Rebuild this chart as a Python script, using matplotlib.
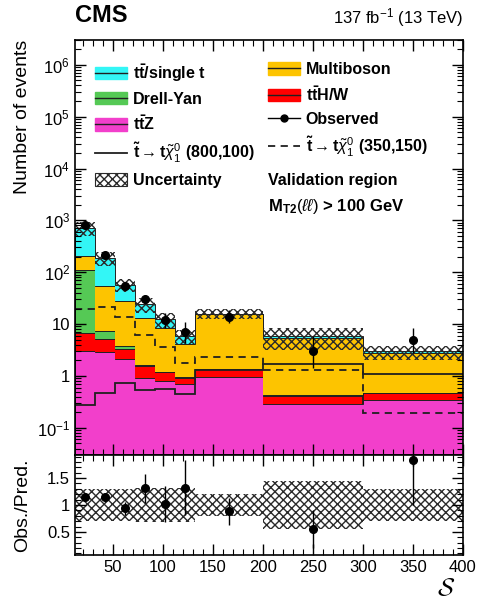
import numpy as np
import matplotlib
matplotlib.use("Agg")
import matplotlib.pyplot as plt
from matplotlib.patches import Patch
from matplotlib.lines import Line2D
from matplotlib.ticker import FixedLocator, MultipleLocator, LogLocator, FuncFormatter, NullFormatter

plt.rcParams['font.family'] = ['Liberation Sans', 'DejaVu Sans']
plt.rcParams['mathtext.fontset'] = 'custom'
plt.rcParams['mathtext.rm'] = 'Liberation Sans'
plt.rcParams['mathtext.it'] = 'Liberation Sans:italic'
plt.rcParams['mathtext.bf'] = 'Liberation Sans:bold'
plt.rcParams['hatch.linewidth'] = 1.0

# bin edges in S
edges = [12, 32, 52, 72, 92, 112, 132, 200, 300, 400]
centers = [22, 42, 62, 82, 102, 122, 166, 250, 350]

# stacked backgrounds (bottom to top)
ttz = [3.0, 2.9, 2.1, 0.93, 0.8, 0.7, 0.96, 0.29, 0.34]
tth_w = [3.8, 2.2, 1.2, 0.63, 0.4, 0.23, 0.39, 0.12, 0.12]
drell_yan = [105, 2.2, 0.5, 0.04, 0.02, 0.02, 0.02, 0.01, 0.01]
multiboson = [91, 46.7, 23.8, 11.6, 7.3, 3.15, 14.0, 4.9, 2.3]
ttbar = [507, 134, 30.4, 10.8, 3.8, 1.8, 0.6, 0.5, 0.2]

# relative uncertainty on the prediction
unc = [0.29, 0.29, 0.29, 0.31, 0.31, 0.31, 0.2, 0.45, 0.3]

# signals
sig_800_100 = [0.28, 0.48, 0.72, 0.53, 0.55, 0.44, 1.3, 1.68, 1.1]
sig_350_150 = [19.6, 21, 13.6, 6.1, 3.7, 1.75, 2.3, 1.29, 0.19]

# observed
obs = [800, 212, 54, 30, 12, 7, 14, 3, 5]
obs_lo = [28, 14.5, 7.3, 5.4, 3.4, 2.6, 3.7, 1.6, 2.2]
obs_hi = [29, 15.5, 7.9, 6.5, 4.5, 3.8, 4.8, 2.9, 3.4]

# ratio panel
ratio = [1.14, 1.14, 0.94, 1.31, 1.02, 1.32, 0.88, 0.55, 1.83]
ratio_lo = [0.04, 0.08, 0.12, 0.27, 0.33, 0.51, 0.25, 0.35, 0.83]
ratio_hi = [0.04, 0.08, 0.12, 0.27, 0.33, 0.51, 0.25, 0.36, 0.85]

colors = {
    'ttz': '#f23fcb',
    'tth': '#ff0000',
    'dy': '#55c955',
    'vv': '#fdc400',
    'tt': '#33f6f6',
}

fig = plt.figure(figsize=(4.85, 5.99), dpi=100)
ax = fig.add_axes([75 / 485, 1 - 455 / 599, 388 / 485, 415 / 599])
rax = fig.add_axes([75 / 485, 1 - 555 / 599, 388 / 485, 100 / 599], sharex=ax)

layers = [(ttz, colors['ttz']), (tth_w, colors['tth']), (drell_yan, colors['dy']),
          (multiboson, colors['vv']), (ttbar, colors['tt'])]
bottom = np.full(len(centers), 1e-3)
for vals, c in layers:
    top = bottom + np.array(vals)
    ax.stairs(top, edges, baseline=bottom, fill=True, color=c, lw=0)
    ax.stairs(top, edges, color='#202020', lw=0.7)
    bottom = top
total = bottom

unc = np.array(unc)
ax.stairs(total * (1 + unc), edges, baseline=total * (1 - unc), fill=True,
          facecolor='none', edgecolor='#2a2a2a', hatch='xxxx', lw=0)

ax.stairs(sig_800_100, edges, color='#202020', lw=1.3, baseline=None)
ax.stairs(sig_350_150, edges, color='#202020', lw=1.3, ls=(0, (4, 3)), baseline=None)

ax.errorbar(centers, obs, yerr=[obs_lo, obs_hi], fmt='o', color='k', ms=5.5,
            elinewidth=1, capsize=0)

ax.set_yscale('log')
ax.set_ylim(0.03, 3e6)
ax.set_xlim(12, 400)


def log_fmt(v, pos):
    if abs(v - 1) < 1e-9:
        return '1'
    if abs(v - 10) < 1e-9:
        return '10'
    return r'$10^{%d}$' % round(np.log10(v))


ax.yaxis.set_major_locator(LogLocator(base=10, numticks=20))
ax.yaxis.set_major_formatter(FuncFormatter(log_fmt))
ax.yaxis.set_minor_locator(LogLocator(base=10, subs=np.arange(2, 10), numticks=20))
ax.yaxis.set_minor_formatter(NullFormatter())
ax.set_ylabel('Number of events', fontsize=14, loc='top')
ax.yaxis.set_label_coords(-44 / 388, 1.0)
ax.tick_params(labelbottom=False)

for a in (ax, rax):
    a.xaxis.set_major_locator(MultipleLocator(50))
    a.xaxis.set_minor_locator(MultipleLocator(10))
    a.tick_params(which='both', direction='in', top=True, right=True, labelsize=12)
    a.tick_params(which='major', length=8, width=1)
    a.tick_params(which='minor', length=4, width=0.8)
    for s in a.spines.values():
        s.set_linewidth(1.2)

# ratio panel
rax.stairs(1 + unc, edges, baseline=1 - unc, fill=True, facecolor='none',
           edgecolor='#2a2a2a', hatch='xxxx', lw=0)
rax.errorbar(centers, ratio, yerr=[ratio_lo, ratio_hi], fmt='o', color='k', ms=5.5,
             elinewidth=1, capsize=0)
rax.set_ylim(0.07, 1.93)
rax.yaxis.set_major_locator(FixedLocator([0.5, 1.0, 1.5]))
rax.yaxis.set_major_formatter(FuncFormatter(lambda v, p: '%g' % v))
rax.yaxis.set_minor_locator(MultipleLocator(0.1))
rax.set_ylabel('Obs./Pred.', fontsize=14)
rax.yaxis.set_label_coords(-44 / 388, 0.5)
rax.set_xlabel(r'$\mathcal{S}$', fontsize=18, loc='right', math_fontfamily='cm')
rax.xaxis.set_label_coords(1 - 8 / 388, -21 / 100)

# legend, two columns
h_box = dict(handlelength=2.0, handleheight=0.8, handletextpad=0.35,
             labelspacing=0.5, frameon=False, borderpad=0, borderaxespad=0,
             prop=dict(weight='bold', size=11.5))
sig_lbl = r'$\mathbf{\tilde{t}}\rightarrow\mathbf{t}\tilde{\chi}^{0}_{1}$'
left_handles = [
    (Patch(color=colors['tt']), Line2D([], [], color='#202020', lw=1)),
    (Patch(color=colors['dy']), Line2D([], [], color='#202020', lw=1)),
    (Patch(color=colors['ttz']), Line2D([], [], color='#202020', lw=1)),
    Line2D([], [], color='#202020', lw=1.3),
    Patch(facecolor='white', edgecolor='#2a2a2a', hatch='xxxx', lw=0.8),
]
left_labels = [r'$\mathbf{t\bar{t}}$/single t', 'Drell-Yan', r'$\mathbf{t\bar{t}Z}$',
               sig_lbl + ' (800,100)', 'Uncertainty']
right_handles = [
    (Patch(color=colors['vv']), Line2D([], [], color='#202020', lw=1)),
    (Patch(color=colors['tth']), Line2D([], [], color='#202020', lw=1)),
    Line2D([], [], color='k', lw=1, marker='o', ms=5),
    Line2D([], [], color='#202020', lw=1.3, ls=(0, (4, 3))),
]
right_labels = ['Multiboson', r'$\mathbf{t\bar{t}H/W}$', 'Observed', sig_lbl + ' (350,150)']

leg1 = ax.legend(left_handles, left_labels, loc='upper left',
                 bbox_to_anchor=((95 - 75) / 388, (455 - 62) / 415), **h_box)
ax.add_artist(leg1)
ax.legend(right_handles, right_labels, loc='upper left',
          bbox_to_anchor=((268 - 75) / 388, (455 - 62) / 415), **h_box)

ax.text((268 - 75) / 388, (455 - 180) / 415, 'Validation region', transform=ax.transAxes,
        fontsize=11.5, fontweight='bold', va='center')
ax.text((268 - 75) / 388, (455 - 207) / 415,
        r'$\mathbf{M_{T2}}(\ell\ell)$ > 100 GeV', transform=ax.transAxes,
        fontsize=12, fontweight='bold', va='center')

fig.text(75 / 485, 1 - 16 / 599, 'CMS', fontsize=17, fontweight='bold', va='center')
fig.text(463 / 485, 1 - 18 / 599, r'137 fb$^{-1}$ (13 TeV)', fontsize=12,
         ha='right', va='center')

fig.savefig('out.png', dpi=100)
